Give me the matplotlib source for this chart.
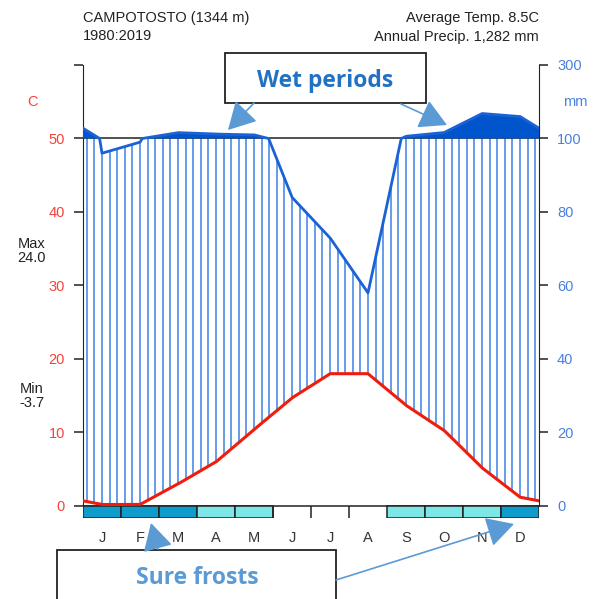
import numpy as np
import matplotlib
matplotlib.use('Agg')
import matplotlib.pyplot as plt
from matplotlib.patches import Rectangle, FancyArrowPatch

plt.rcParams['font.family'] = ['Liberation Sans', 'DejaVu Sans']

# monthly climate data
months = ['J', 'F', 'M', 'A', 'M', 'J', 'J', 'A', 'S', 'O', 'N', 'D']
temp = [0.2, 0.2, 3.0, 6.0, 10.4, 14.7, 18.0, 18.0, 13.7, 10.3, 5.2, 1.2]   # C
precip = [96, 99, 116, 112, 110, 84, 73, 58, 106, 116, 168, 160]          # mm
frost = ['sure', 'sure', 'sure', 'prob', 'prob', '', '', '', 'prob', 'prob', 'prob', 'sure']
station = 'CAMPOTOSTO (1344 m)'
period = '1980:2019'
avg_temp = 'Average Temp. 8.5C'
ann_precip = 'Annual Precip. 1,282 mm'
max_txt = 'Max\n24.0'
min_txt = 'Min\n-3.7'
left_ticks = [0, 10, 20, 30, 40, 50]
right_labels = ['0', '20', '40', '60', '80', '100', '300']

tcol = '#f01c0c'
pcol = '#1a62d6'
hatch_col = '#3b82e2'
fill_col = '#0055cc'
tlab_col = '#f5423a'
plab_col = '#4a80e0'
fs = 10.5

W, H = 600, 599
fig = plt.figure(figsize=(W / 100, H / 100), dpi=100)


def fx(x):
    return x / W


def fy(y):
    return 1 - y / H


# axes: y=0 at px 506, y=60 at px 65, frost boxes below zero
unit = (506 - 65) / 60.0
ybot = -1.6
ax = fig.add_axes([fx(83), fy(506 - ybot * unit), 456 / W, (506 - ybot * unit - 65) / H])
ax.set_xlim(0, 12)
ax.set_ylim(ybot, 60)


def compress(p):
    p = np.asarray(p, dtype=float)
    return np.where(p <= 100, p / 2.0, 50 + (p - 100) / 20.0)


# curves through month centres, closed at the edges with Dec/Jan mean
xn = np.concatenate([[0], np.arange(12) + 0.5, [12]])
tn = np.concatenate([[(temp[0] + temp[-1]) / 2], temp, [(temp[0] + temp[-1]) / 2]])
pn = np.concatenate([[(precip[0] + precip[-1]) / 2], precip, [(precip[0] + precip[-1]) / 2]])
xf = np.linspace(0, 12, 2401)
tf = np.interp(xf, xn, tn)
pf = compress(np.interp(xf, xn, pn))

# vertical hatching for humid period
xh = (np.arange(60) + 0.5) * 0.2
th = np.interp(xh, xn, tn)
ph = compress(np.interp(xh, xn, pn))
ax.vlines(xh, th, np.minimum(ph, 50), color=hatch_col, lw=1.1, zorder=2)

# very humid (>100 mm) filled
ax.fill_between(xf, 50, pf, where=pf > 50, color=fill_col, lw=0, zorder=3)

ax.axhline(50, color='#222222', lw=1.1, zorder=2.5)
ax.axhline(0, color='#222222', lw=1.1, zorder=2.5)
ax.plot(xf, pf, color=pcol, lw=2, zorder=4)
ax.plot(xf, tf, color=tcol, lw=2.2, zorder=5)

# frost boxes
for i, f in enumerate(frost):
    if f == 'sure':
        ax.add_patch(Rectangle((i, ybot), 1, -ybot, facecolor='#0e9ccc', edgecolor='#222222', lw=1.1, zorder=3))
    elif f == 'prob':
        ax.add_patch(Rectangle((i, ybot), 1, -ybot, facecolor='#7de6e6', edgecolor='#222222', lw=1.1, zorder=3))
    else:
        ax.vlines([i], ybot, 0, color='#222222', lw=1.1, zorder=3)
for i, m in enumerate(months):
    ax.text(i + 0.5, -4.35, m, ha='center', va='center', fontsize=fs, color='#333333', clip_on=False)

# axes and ticks
for s in ['top', 'bottom']:
    ax.spines[s].set_visible(False)
ax.spines['left'].set_bounds(0, 60)
ax.spines['right'].set_bounds(0, 60)
ax.spines['left'].set_color('#222222')
ax.spines['right'].set_color('#222222')
ax.set_xticks([])
ax.set_yticks(left_ticks + [60])
ax.set_yticklabels([str(t) for t in left_ticks] + [''])
ax.tick_params(axis='y', length=6.5, width=1.1, color='#222222', labelcolor=tlab_col, labelsize=fs, pad=6.5)

ax2 = ax.twinx()
ax2.set_ylim(ybot, 60)
ax2.set_yticks([0, 10, 20, 30, 40, 50, 60])
ax2.set_yticklabels(right_labels)
ax2.tick_params(axis='y', length=6.5, width=1.1, color='#222222', labelcolor=plab_col, labelsize=fs, pad=6.5)
for s in ['top', 'bottom', 'left', 'right']:
    ax2.spines[s].set_visible(False)

# header texts
fig.text(fx(83), fy(18), station, ha='left', va='center', fontsize=fs, color='#222222')
fig.text(fx(83), fy(36), period, ha='left', va='center', fontsize=fs, color='#222222')
fig.text(fx(539), fy(18), avg_temp, ha='right', va='center', fontsize=fs, color='#222222')
fig.text(fx(539), fy(37), ann_precip, ha='right', va='center', fontsize=fs, color='#222222')
fig.text(fx(33), fy(102), 'C', ha='center', va='center', fontsize=fs, color=tlab_col)
fig.text(fx(575), fy(102), 'mm', ha='center', va='center', fontsize=fs, color=plab_col)
fig.text(fx(32), fy(251), max_txt, ha='center', va='center', fontsize=fs, color='#222222',
         linespacing=1.05, multialignment='center')
fig.text(fx(32), fy(396), min_txt, ha='center', va='center', fontsize=fs, color='#222222',
         linespacing=1.05, multialignment='center')

# callout boxes
fig.add_artist(Rectangle((fx(225), fy(103)), 201 / W, 50 / H, transform=fig.transFigure,
                         facecolor='white', edgecolor='#222222', lw=1.3, zorder=10))
fig.text(fx(325), fy(81), 'Wet periods', ha='center', va='center', fontsize=16.5,
         fontweight='bold', color='#2272c3', family=['Open Sans', 'DejaVu Sans'], zorder=11)
fig.add_artist(Rectangle((fx(57), fy(605)), 279 / W, 55 / H, transform=fig.transFigure,
                         facecolor='white', edgecolor='#222222', lw=1.3, zorder=10))
fig.text(fx(197), fy(578), 'Sure frosts', ha='center', va='center', fontsize=16.5,
         fontweight='bold', color='#5a9bd5', family=['Open Sans', 'DejaVu Sans'], zorder=11)

arrows = [((254, 103), (228, 130)), ((401, 104), (447, 125)),
          ((158, 549), (151, 523)), ((336, 580), (514, 524))]
for a, b in arrows:
    fig.add_artist(FancyArrowPatch((fx(a[0]), fy(a[1])), (fx(b[0]), fy(b[1])),
                                   transform=fig.transFigure, arrowstyle='-|>,head_length=1.0,head_width=0.55',
                                   mutation_scale=17, color='#5b9bd5', lw=1.2, shrinkA=0, shrinkB=0, zorder=12))

fig.savefig('out.png', dpi=100)
